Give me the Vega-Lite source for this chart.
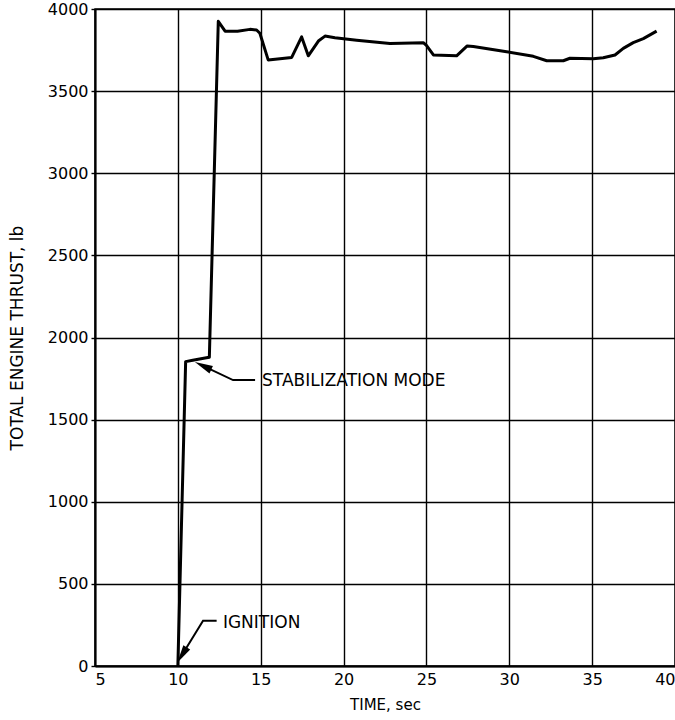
{
  "$schema": "https://vega.github.io/schema/vega-lite/v6.json",
  "autosize": "none",
  "width": 580,
  "height": 657,
  "padding": {"left": 95, "top": 9, "right": 0, "bottom": 54},
  "background": "white",
  "config": {
    "font": "DejaVu Sans",
    "view": {"stroke": "black", "strokeWidth": 1.5},
    "axis": {
      "gridColor": "black", "gridOpacity": 1, "gridWidth": 1.4,
      "domainColor": "black", "domainWidth": 2,
      "tickColor": "black", "tickWidth": 1.4, "labelColor": "black", "titleColor": "black",
      "labelFont": "DejaVu Sans", "titleFont": "DejaVu Sans",
      "labelFontSize": 16, "titleFontSize": 15, "titleFontWeight": "normal"
    }
  },
  "datasets": {
    "thrust": [
      {"t": 10.0, "v": 0}, {"t": 10.47, "v": 1853}, {"t": 10.9, "v": 1862}, {"t": 11.64, "v": 1875},
      {"t": 11.9, "v": 1880}, {"t": 12.44, "v": 3925}, {"t": 12.85, "v": 3865}, {"t": 13.6, "v": 3865},
      {"t": 14.35, "v": 3876}, {"t": 14.75, "v": 3872}, {"t": 14.95, "v": 3852}, {"t": 15.45, "v": 3690},
      {"t": 16.87, "v": 3705}, {"t": 17.47, "v": 3830}, {"t": 17.87, "v": 3715}, {"t": 18.48, "v": 3805},
      {"t": 18.88, "v": 3835}, {"t": 19.48, "v": 3825}, {"t": 20.79, "v": 3810}, {"t": 22.8, "v": 3790},
      {"t": 24.81, "v": 3795}, {"t": 25.0, "v": 3778}, {"t": 25.42, "v": 3720}, {"t": 26.82, "v": 3715},
      {"t": 27.46, "v": 3775}, {"t": 27.83, "v": 3772}, {"t": 29.84, "v": 3740}, {"t": 31.45, "v": 3712},
      {"t": 32.26, "v": 3685}, {"t": 33.26, "v": 3685}, {"t": 33.66, "v": 3700}, {"t": 35.07, "v": 3697},
      {"t": 35.67, "v": 3703}, {"t": 36.38, "v": 3720}, {"t": 36.88, "v": 3760}, {"t": 37.48, "v": 3795},
      {"t": 38.09, "v": 3820}, {"t": 38.89, "v": 3865}
    ],
    "arrows": [
      {"arrow": "ignition", "seq": 1, "t": 10.25, "v": 67},
      {"arrow": "ignition", "seq": 2, "t": 11.52, "v": 276},
      {"arrow": "ignition", "seq": 3, "t": 12.34, "v": 276},
      {"arrow": "stab", "seq": 1, "t": 11.52, "v": 1827},
      {"arrow": "stab", "seq": 2, "t": 13.33, "v": 1741},
      {"arrow": "stab", "seq": 3, "t": 14.66, "v": 1741}
    ],
    "labels": [
      {"label": "IGNITION", "t": 12.72, "v": 262},
      {"label": "STABILIZATION MODE", "t": 15.08, "v": 1736}
    ]
  },
  "layer": [
    {
      "data": {"name": "thrust"},
      "mark": {"type": "line", "color": "black", "strokeWidth": 3, "strokeJoin": "round"},
      "encoding": {
        "x": {"field": "t", "type": "quantitative",
              "scale": {"domain": [5, 40], "nice": false, "zero": false},
              "axis": {"title": "TIME, sec", "values": [5, 10, 15, 20, 25, 30, 35, 40], "format": "d", "tickSize": 0, "labelPadding": 5, "titlePadding": 10}},
        "y": {"field": "v", "type": "quantitative",
              "scale": {"domain": [0, 4000], "nice": false},
              "axis": {"title": "TOTAL ENGINE THRUST, lb", "titleFontSize": 17, "values": [0, 500, 1000, 1500, 2000, 2500, 3000, 3500, 4000], "format": "d", "tickSize": 4, "labelPadding": 3, "titlePadding": 21}}
      }
    },
    {
      "data": {"name": "arrows"},
      "mark": {"type": "line", "color": "black", "strokeWidth": 2},
      "encoding": {
        "x": {"field": "t", "type": "quantitative"},
        "y": {"field": "v", "type": "quantitative"},
        "detail": {"field": "arrow"},
        "order": {"field": "seq"}
      }
    },
    {
      "data": {"values": [{"t": 10.25, "v": 67}]},
      "mark": {"type": "point", "shape": "M0,-1L0.45,1L-0.45,1Z", "filled": true, "color": "black", "opacity": 1, "size": 324, "angle": 212},
      "encoding": {
        "x": {"field": "t", "type": "quantitative"},
        "y": {"field": "v", "type": "quantitative"}
      }
    },
    {
      "data": {"values": [{"t": 11.52, "v": 1827}]},
      "mark": {"type": "point", "shape": "M0,-1L0.45,1L-0.45,1Z", "filled": true, "color": "black", "opacity": 1, "size": 324, "angle": 295},
      "encoding": {
        "x": {"field": "t", "type": "quantitative"},
        "y": {"field": "v", "type": "quantitative"}
      }
    },
    {
      "data": {"name": "labels"},
      "mark": {"type": "text", "align": "left", "baseline": "middle", "font": "DejaVu Sans", "fontSize": 17, "color": "black"},
      "encoding": {
        "x": {"field": "t", "type": "quantitative"},
        "y": {"field": "v", "type": "quantitative"},
        "text": {"field": "label"}
      }
    }
  ]
}
